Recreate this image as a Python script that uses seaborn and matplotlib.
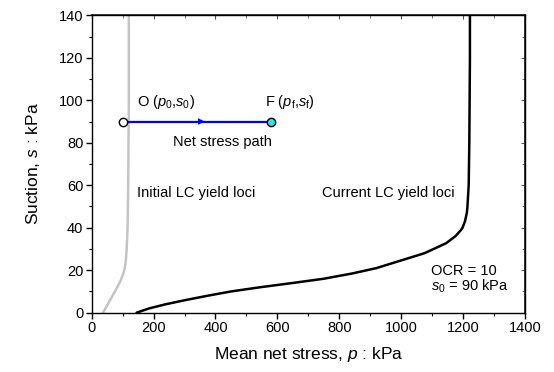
import matplotlib
matplotlib.use("Agg")
import matplotlib.pyplot as plt
from matplotlib.ticker import MultipleLocator
import seaborn as sns
import pandas as pd

# Initial LC yield locus (suction s, mean net stress p), kPa
init_s = [0, 5, 10, 14, 17, 19.3, 22, 25, 30, 40, 60, 80, 100, 120, 140]
init_p = [37, 56, 75, 90, 98.5, 104, 108, 110.5, 113, 116, 118, 119, 120, 120, 120]

# Current LC yield locus after loading
curr_s = [0, 2, 4, 6, 8, 10, 12, 14, 16, 18.5, 21, 24.8, 28, 32.7, 36,
          38.9, 40, 43, 47, 50, 55, 60, 80, 100, 120, 140]
curr_p = [145, 185, 240, 305, 375, 450, 545, 650, 750, 843, 920, 1004, 1075,
          1145, 1175, 1193, 1198, 1206, 1212, 1214, 1216, 1218, 1220, 1221,
          1222, 1222]

# Net stress path O -> F at constant suction
p0, pf = 100, 580
s0 = 90
OCR = 10

sns.set_theme(style="ticks")
plt.rcParams["font.family"] = ["Liberation Sans", "DejaVu Sans"]
plt.rcParams["mathtext.fontset"] = "custom"
plt.rcParams["mathtext.rm"] = "Liberation Sans"
plt.rcParams["mathtext.it"] = "Liberation Sans:italic"
plt.rcParams["text.color"] = "black"
plt.rcParams["axes.labelcolor"] = "black"

fig = plt.figure(figsize=(5.54, 3.72), dpi=100)
ax = fig.add_axes([0.1655, 0.1594, 0.7822, 0.7995])

df_init = pd.DataFrame({"p": init_p, "s": init_s})
df_curr = pd.DataFrame({"p": curr_p, "s": curr_s})
sns.lineplot(data=df_init, x="p", y="s", sort=False, estimator=None,
             color="#c4c4c4", lw=1.8, ax=ax)
sns.lineplot(data=df_curr, x="p", y="s", sort=False, estimator=None,
             color="black", lw=1.8, ax=ax)

df_path = pd.DataFrame({"p": [p0, pf], "s": [s0, s0]})
sns.lineplot(data=df_path, x="p", y="s", sort=False, estimator=None,
             color="blue", lw=1.6, ax=ax)
pm = (p0 + pf) / 2
ax.annotate("", xy=(pm + 25, s0), xytext=(pm - 25, s0),
            arrowprops=dict(arrowstyle="-|>", color="blue", lw=0,
                            mutation_scale=12, shrinkA=0, shrinkB=0))
ax.plot([p0], [s0], "o", mfc="white", mec="black", ms=6, mew=1, zorder=5)
ax.plot([pf], [s0], "o", mfc="#33e0e0", mec="black", ms=6, mew=1, zorder=5)

fs = 10.5
ax.text(148, 99, r"O ($p_0$,$s_0$)", fontsize=fs, va="center")
ax.text(560, 99, r"F ($p_\mathrm{f}$,$s_\mathrm{f}$)", fontsize=fs, va="center")
ax.text(421, 80.5, "Net stress path", fontsize=fs, va="center", ha="center")
ax.text(148, 56.3, "Initial LC yield loci", fontsize=fs, va="center")
ax.text(745, 56.3, "Current LC yield loci", fontsize=fs, va="center")
ax.text(1097, 19.5, f"OCR = {OCR}", fontsize=fs, va="center")
ax.text(1097, 12.4, rf"$s_0$ = {s0} kPa", fontsize=fs, va="center")

ax.set_xlim(0, 1400)
ax.set_ylim(0, 140)
ax.xaxis.set_major_locator(MultipleLocator(200))
ax.xaxis.set_minor_locator(MultipleLocator(100))
ax.yaxis.set_major_locator(MultipleLocator(20))
ax.yaxis.set_minor_locator(MultipleLocator(10))
ax.tick_params(which="major", direction="out", length=4, width=1,
               labelsize=10.5, colors="black", pad=2)
ax.tick_params(which="minor", direction="out", length=2.5, width=0.8,
               colors="black")
for sp in ax.spines.values():
    sp.set_linewidth(1)
    sp.set_color("black")

# mirrored ticks on top and right
for side in ("top", "right"):
    sec = ax.secondary_xaxis("top") if side == "top" else ax.secondary_yaxis("right")
    axis = sec.xaxis if side == "top" else sec.yaxis
    axis.set_major_locator(MultipleLocator(200 if side == "top" else 20))
    axis.set_minor_locator(MultipleLocator(100 if side == "top" else 10))
    sec.tick_params(which="major", direction="in", length=3, width=0.8,
                    labeltop=False, labelright=False, colors="#555555")
    sec.tick_params(which="minor", direction="in", length=2, width=0.6,
                    colors="#555555")

ax.set_xlabel(r"Mean net stress, $p$ : kPa", fontsize=12.5, labelpad=7)
ax.set_ylabel(r"Suction, $s$ : kPa", fontsize=12.5, labelpad=12)

fig.savefig("out.png", dpi=100)
